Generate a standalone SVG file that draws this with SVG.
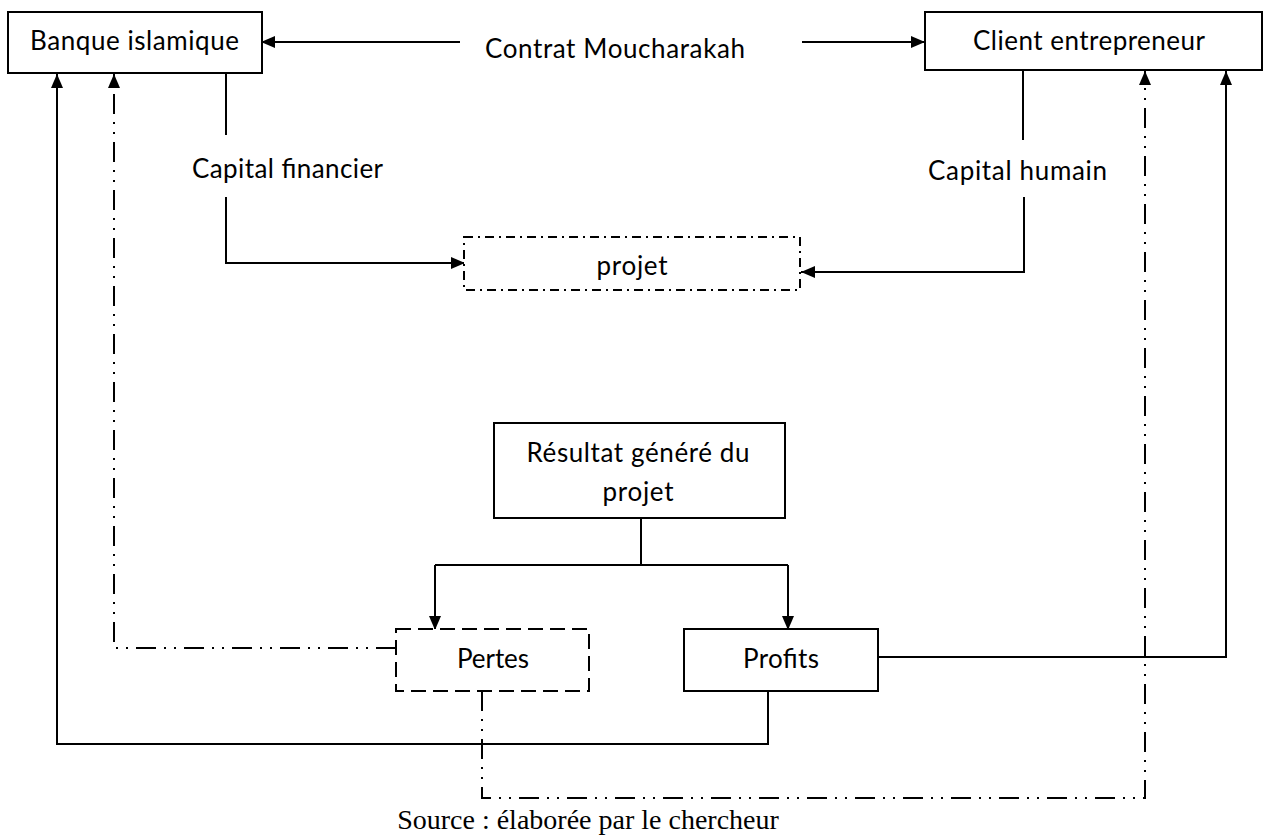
<svg xmlns="http://www.w3.org/2000/svg" width="1264" height="837" viewBox="0 0 1264 837">
  <style>
    .box { fill: #ffffff; stroke: #000000; stroke-width: 2; }
    .box-dashdot { fill: #ffffff; stroke: #000000; stroke-width: 2; stroke-dasharray: 9 5 2 5; }
    .box-dashed { fill: #ffffff; stroke: #000000; stroke-width: 2; stroke-dasharray: 15 7; }
    .label { font-family: Lato, "Open Sans", sans-serif; font-size: 26px; fill: #000000; text-anchor: middle; }
    .source { font-family: "Liberation Serif", "Times New Roman", serif; font-size: 28px; fill: #000000; text-anchor: middle; }
    .line { fill: none; stroke: #000000; stroke-width: 2; }
    .line-ddot { fill: none; stroke: #000000; stroke-width: 2; stroke-dasharray: 20 8 2 8 2 8; }
  </style>
  <defs>
    <marker id="arrow" viewBox="0 0 14 12" refX="14" refY="6" markerWidth="14" markerHeight="12" markerUnits="userSpaceOnUse" orient="auto">
      <path d="M0,0 L14,6 L0,12 Z" fill="#000000"/>
    </marker>
  </defs>

  <!-- connectors -->
  <g id="connectors">
    <!-- contract links between the two partners -->
    <path class="line" d="M460,42 L261,42" marker-end="url(#arrow)"/>
    <path class="line" d="M802,42 L925,42" marker-end="url(#arrow)"/>
    <!-- financial capital into the project -->
    <path class="line" d="M226,73 L226,135"/>
    <path class="line" d="M226,197 L226,263 L465,263" marker-end="url(#arrow)"/>
    <!-- human capital into the project -->
    <path class="line" d="M1023,70 L1023,140"/>
    <path class="line" d="M1024,197 L1024,272 L801,272" marker-end="url(#arrow)"/>
    <!-- result split into losses and profits -->
    <path class="line" d="M641,518 L641,565"/>
    <path class="line" d="M435,565 L788,565"/>
    <path class="line" d="M435,565 L435,630" marker-end="url(#arrow)"/>
    <path class="line" d="M788,565 L788,630" marker-end="url(#arrow)"/>
    <!-- profits shared to both partners -->
    <path class="line" d="M768,691 L768,744 L57,744 L57,74" marker-end="url(#arrow)"/>
    <path class="line" d="M878,657 L1226,657 L1226,71" marker-end="url(#arrow)"/>
    <!-- losses borne by both partners -->
    <path class="line-ddot" d="M396,648 L114,648 L114,74" marker-end="url(#arrow)"/>
    <path class="line-ddot" d="M482,691 L482,798 L1145,798 L1145,71" marker-end="url(#arrow)"/>
  </g>

  <g id="banque">
    <rect class="box" x="8" y="12" width="254" height="61"/>
    <text class="label" x="134.5" y="50" textLength="209">Banque islamique</text>
  </g>

  <g id="client">
    <rect class="box" x="925" y="12" width="337" height="58"/>
    <text class="label" x="1089" y="50" textLength="232">Client entrepreneur</text>
  </g>

  <g id="contrat">
    <text class="label" x="615" y="58" textLength="260">Contrat Moucharakah</text>
  </g>

  <g id="capital-financier">
    <text class="label" x="287.5" y="178" textLength="191">Capital financier</text>
  </g>

  <g id="capital-humain">
    <text class="label" x="1017.5" y="180" textLength="179">Capital humain</text>
  </g>

  <g id="projet">
    <rect class="box-dashdot" x="464" y="237" width="336" height="53"/>
    <text class="label" x="632" y="275" textLength="71">projet</text>
  </g>

  <g id="resultat">
    <rect class="box" x="494" y="423" width="291" height="95"/>
    <text class="label" x="638" y="462" textLength="223">Résultat généré du</text>
    <text class="label" x="638" y="501" textLength="71">projet</text>
  </g>

  <g id="pertes">
    <rect class="box-dashed" x="396" y="629" width="193" height="62"/>
    <text class="label" x="493" y="668" textLength="72">Pertes</text>
  </g>

  <g id="profits">
    <rect class="box" x="684" y="629" width="194" height="62"/>
    <text class="label" x="781" y="668" textLength="76">Profits</text>
  </g>

  <text class="source" x="588" y="829">Source : élaborée par le chercheur</text>
</svg>
